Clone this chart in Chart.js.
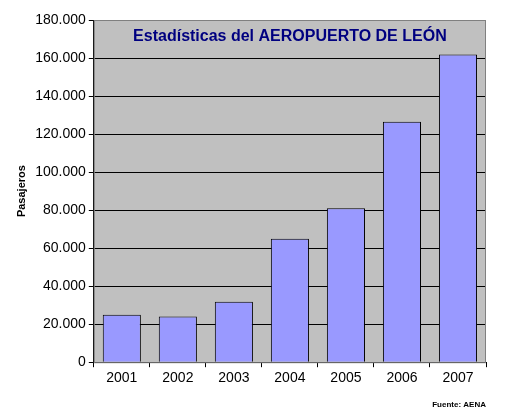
<!DOCTYPE html>
<html><head><meta charset="utf-8">
<script src="https://cdn.jsdelivr.net/npm/chart.js@4"></script>
<style>html,body{margin:0;padding:0;background:#fff}#w{position:relative;width:526px;height:417px}</style>
</head><body><div id="w"><canvas id="c" width="526" height="417"></canvas></div>
<script>
const categories=["2001","2002","2003","2004","2005","2006","2007"];
const pasajeros=[25000,24000,31800,65000,81000,126500,161800];
const titleText="Estadísticas del AEROPUERTO DE LEÓN";
const fmt=v=>v===0?"0":v.toLocaleString("de-DE");
const bg={id:"bg",beforeDraw(ch){const a=ch.chartArea,x=ch.ctx;x.save();x.fillStyle="#c0c0c0";x.fillRect(a.left,a.top,a.right-a.left,a.bottom-a.top);x.restore();},
afterDraw(ch){const a=ch.chartArea,x=ch.ctx;x.save();x.strokeStyle="#808080";x.lineWidth=1;x.strokeRect(a.left+0.5,a.top+0.5,a.right-a.left-1,a.bottom-a.top);
x.fillStyle="#000080";x.font="bold 16px Arial, 'Liberation Sans'";x.textAlign="center";x.textBaseline="middle";x.fillText(titleText,(a.left+a.right)/2,37);
x.fillStyle="#000";x.font="bold 8px Arial, 'Liberation Sans'";x.textAlign="right";x.fillText("Fuente: AENA",486,405);x.restore();}};
new Chart(document.getElementById("c"),{type:"bar",
data:{labels:categories,datasets:[{data:pasajeros,backgroundColor:"#9999ff",borderColor:"#000",borderWidth:1,categoryPercentage:1,barPercentage:0.68}]},
options:{responsive:false,animation:false,layout:{padding:{top:20,right:40,bottom:27,left:11}},
plugins:{legend:{display:false},tooltip:{enabled:false}},
scales:{x:{grid:{display:true,drawOnChartArea:false,offset:true,color:"#000",tickLength:5},border:{color:"#000"},ticks:{color:"#000",font:{size:14,family:"Arial, 'Liberation Sans'"}}},
y:{min:0,max:180000,ticks:{stepSize:20000,color:"#000",font:{size:14,family:"Arial, 'Liberation Sans'"},callback:v=>fmt(v)},grid:{color:"#000",tickLength:5},border:{color:"#000"},
title:{display:true,text:"Pasajeros",color:"#000",font:{size:11,weight:"bold",family:"Arial, 'Liberation Sans'"}}}}},
plugins:[bg]});
</script></body></html>
